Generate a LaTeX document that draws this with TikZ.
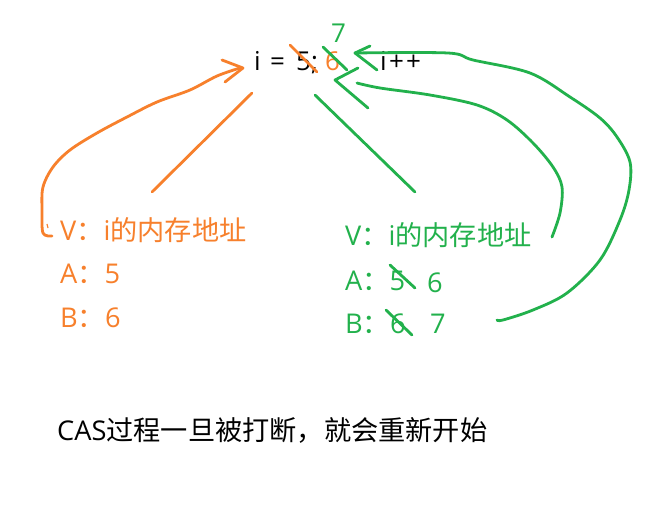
\documentclass[tikz,border=0pt]{standalone}
\usepackage{fontspec}
\setmainfont{Noto Sans CJK SC}
\newfontfamily\lat{Open Sans}
\definecolor{org}{RGB}{247,128,44}
\definecolor{grn}{RGB}{34,177,76}
\begin{document}
\begin{tikzpicture}[x=1pt,y=-1pt,
  txt/.style={inner sep=0pt,anchor=base west,font=\fontsize{27.2}{30}\selectfont},
  big/.style={inner sep=0pt,anchor=base west,font=\fontsize{26}{30}\selectfont\lat},
  pen/.style={line width=2.8pt,line cap=round,line join=round}]
\useasboundingbox[fill=white] (0,0) rectangle (649,525);
% top line
\node[big] (ti) at (254,70) {i};
\node[big] (teq) at (270,70) {=};
\node[big] (tfive) at (296,70) {5};
\node[big] (tsemi) at (311,70) {;};
\node[big,text=org] (six) at (325,70) {6};
\node[big] (ipp) at (380,70) {i};
\node[big] (ipp2) at (389,70) {+};
\node[big] (ipp3) at (406,70) {+};
\node[big,text=grn] (seven) at (331,42) {7};
% orange block
\node[txt,text=org] (ov) at (60,240) {{\lat V}：{\lat i}的内存地址};
\node[txt,text=org] (oa) at (60,283) {{\lat A}：{\lat 5}};
\node[txt,text=org] (ob) at (60,327) {{\lat B}：{\lat 6}};
% green block
\node[txt,text=grn] (gv) at (345,245) {{\lat V}：{\lat i}的内存地址};
\node[txt,text=grn] (ga) at (345,290) {{\lat A}：{\lat 5}};
\node[txt,text=grn,font=\fontsize{27.2}{30}\selectfont\lat] (ga2) at (427,292) {6};
\node[txt,text=grn] (gb) at (345,333) {{\lat B}：{\lat 6}};
\node[txt,text=grn,font=\fontsize{27.2}{30}\selectfont\lat] (gb2) at (430,333) {7};
% bottom
\node[txt] (note) at (57,440) {{\lat CAS}过程一旦被打断，就会重新开始};
% strikes
\draw[pen,org] (290,45) -- (317,72);
\draw[pen,grn] (323,47) -- (347,70);
\draw[pen,grn] (390,265) -- (415,288);
\draw[pen,grn] (386,310) -- (412,335);
% pointer lines
\draw[pen,org] (252,93) -- (152,192);
\draw[pen,grn] (315,95) -- (415,192);
% orange arrow
\draw[pen,org] plot[smooth,tension=0.55] coordinates {(52,236) (43,233) (42,210) (43,187) (53,167) (70,150) (97,133) (127,117) (157,102) (190,90) (217,76) (240,68)};
\draw[pen,org] (222,60) -- (243,68) -- (225,82);
\draw[org,line width=1.2pt] (47,224) -- (48,228);
% green arrow 1 (outer)
\draw[pen,grn] plot[smooth,tension=0.55] coordinates {(355,53) (448,53) (473,60) (530,73) (570,97) (600,118) (617,137) (630,162) (629,190) (620,220) (600,260) (567,293) (533,310) (503,320) (497,320)};
\draw[pen,grn] (370,46) -- (355,53) -- (377,70);
% green arrow 2 (inner)
\draw[pen,grn] plot[smooth,tension=0.55] coordinates {(357,83) (380,88) (430,95) (477,105) (507,120) (533,143) (553,167) (562,187) (560,213) (552,237)};
\draw[pen,grn] (358,68) -- (335,80) -- (368,108);
\end{tikzpicture}
\end{document}
